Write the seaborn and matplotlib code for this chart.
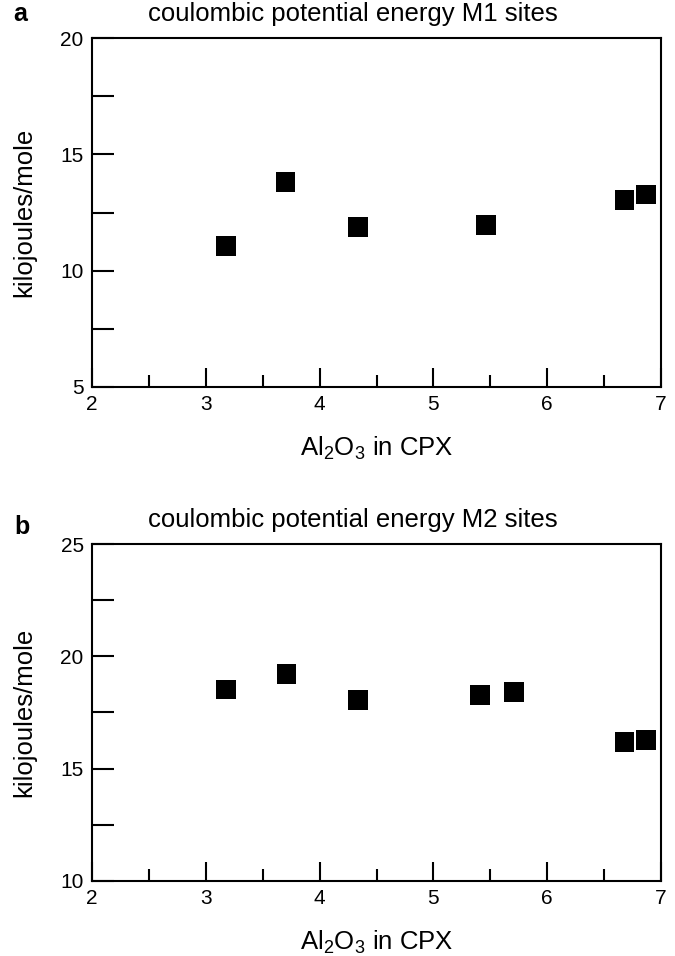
import seaborn as sns
import matplotlib.pyplot as plt
import pandas as pd
from matplotlib.ticker import MultipleLocator

# values
al2o3_m1 = [3.18, 3.70, 4.34, 5.46, 6.68, 6.87]
energy_m1 = [11.05, 13.82, 11.88, 11.95, 13.03, 13.27]

al2o3_m2 = [3.18, 3.71, 4.34, 5.41, 5.71, 6.68, 6.87]
energy_m2 = [18.53, 19.21, 18.06, 18.28, 18.41, 16.19, 16.28]

titles = ["coulombic potential energy M1 sites", "coulombic potential energy M2 sites"]
panel_tags = ["a", "b"]
ylims = [(5, 20), (10, 25)]

sns.set_style("white")
plt.rcParams['font.family'] = ['Liberation Sans', 'DejaVu Sans']
plt.rcParams['mathtext.default'] = 'regular'
plt.rcParams['text.color'] = 'black'
plt.rcParams['axes.labelcolor'] = 'black'
plt.rcParams['xtick.color'] = 'black'
plt.rcParams['ytick.color'] = 'black'

df1 = pd.DataFrame({"al2o3": al2o3_m1, "energy": energy_m1})
df2 = pd.DataFrame({"al2o3": al2o3_m2, "energy": energy_m2})

fig = plt.figure(figsize=(6.75, 9.56), dpi=100)
ax1 = fig.add_axes([92 / 675, 1 - 387 / 956, 569 / 675, 349 / 956])
ax2 = fig.add_axes([92 / 675, 1 - 881 / 956, 569 / 675, 337 / 956])

for ax, df, title, tag, ylim in zip([ax1, ax2], [df1, df2], titles, panel_tags, ylims):
    sns.scatterplot(data=df, x="al2o3", y="energy", ax=ax, marker="s", s=200,
                    color="black", edgecolor="none", linewidth=0)
    ax.set_xlim(2, 7)
    ax.set_ylim(*ylim)
    ax.xaxis.set_major_locator(MultipleLocator(1))
    ax.xaxis.set_minor_locator(MultipleLocator(0.5))
    ax.yaxis.set_major_locator(MultipleLocator(5))
    ax.yaxis.set_minor_locator(MultipleLocator(2.5))
    ax.tick_params(axis="x", which="major", direction="in", length=14, width=1.5,
                   labelsize=15, pad=6, bottom=True, top=False)
    ax.tick_params(axis="x", which="minor", direction="in", length=8.5, width=1.5,
                   bottom=True, top=False)
    ax.tick_params(axis="y", which="both", direction="in", length=16, width=1.5,
                   labelsize=15, pad=6, left=True, right=False)
    for sp in ax.spines.values():
        sp.set_linewidth(1.5)
        sp.set_color("black")
    ax.set_title(title, fontsize=18.5, pad=12, x=0.459)
    ax.set_xlabel("Al$_2$O$_3$ in CPX", fontsize=18.5, labelpad=15)
    ax.set_ylabel("kilojoules/mole", fontsize=18.5, labelpad=17)

fig.text(13 / 675, 1 - 14 / 956, "a", fontsize=18, fontweight="bold", va="center")
fig.text(14 / 675, 1 - 527 / 956, "b", fontsize=18, fontweight="bold", va="center")

fig.savefig("out.png", dpi=100)
